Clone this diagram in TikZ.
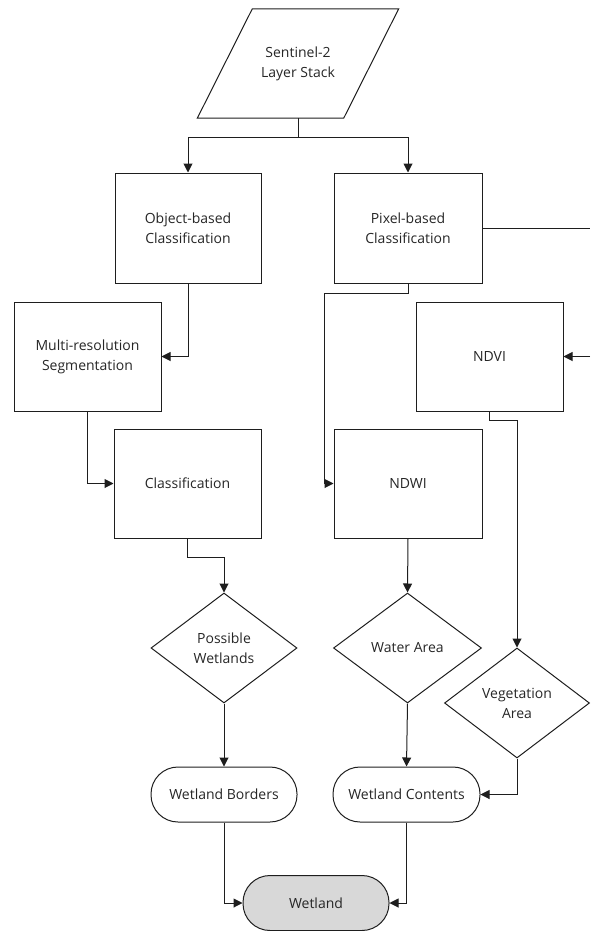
\documentclass[tikz,border=0pt]{standalone}
\usepackage{fontspec}
\setmainfont{Open Sans}
\usepackage{xcolor}
\usepackage{tikz}
\usetikzlibrary{shapes.geometric,arrows.meta}
\definecolor{flowline}{RGB}{30,30,30}
\definecolor{wetlandfill}{RGB}{216,216,216}

\tikzset{
  procbox/.style={draw=flowline, line width=1pt, minimum width=147pt, minimum height=109pt, align=center},
  decision/.style={diamond, draw=flowline, line width=1pt, minimum width=147pt, minimum height=110pt, aspect=1.34, inner sep=0pt, align=center},
  termbox/.style={draw=flowline, line width=1pt, rounded corners=27pt, minimum width=146pt, minimum height=55pt, align=center},
  arr/.style={draw=flowline, line width=1pt, -{Triangle[width=9pt,length=9pt]}},
  link/.style={draw=flowline, line width=1pt}
}

\begin{document}
\begin{tikzpicture}[x=1pt, y=-1pt, font=\fontsize{14}{20}\selectfont, text=black!85]
        \useasboundingbox (0,0) rectangle (590,931);

        % input
        \node[minimum width=146pt, minimum height=109pt, align=center] (stack) at (298,63.5) {Sentinel-2\\Layer Stack};
        \draw[link] ([xshift=27.5pt]stack.north west) -- ([xshift=27.5pt]stack.north east)
            -- ([xshift=-27.5pt]stack.south east) -- ([xshift=-27.5pt]stack.south west) -- cycle;

        % two branches
        \node[procbox, minimum width=146pt, minimum height=110pt] (obj) at (188,228) {Object-based\\Classification};
        \node[procbox, minimum width=148pt, minimum height=110pt] (pix) at (408,228) {Pixel-based\\Classification};
        \node[procbox] (mrs) at (87.5,356.5) {Multi-resolution\\Segmentation};
        \node[procbox] (ndvi) at (489.5,356.5) {NDVI};
        \node[procbox] (cls) at (187.5,483.5) {Classification};
        \node[procbox, minimum width=148pt] (ndwi) at (408,483.5) {NDWI};

        % decisions
        \node[decision, minimum width=146pt] (pw) at (224,648) {Possible\\Wetlands};
        \node[decision, minimum width=148pt] (wa) at (407.5,648) {Water Area};
        \node[decision, minimum width=145pt] (veg) at (517,703) {Vegetation\\Area};

        % results
        \node[termbox] (wb) at (224,794.5) {Wetland Borders};
        \node[termbox, minimum width=147pt] (wc) at (406.5,794.5) {Wetland Contents};
        \node[termbox, fill=wetlandfill] (wet) at (316,903) {Wetland};

        \coordinate (rimtop) at (590,228);
        \coordinate (rimlow) at (590,356.5);

        \draw[link] (stack.south) -- ++(0,19) coordinate (split);
        \draw[arr] (split) -| (obj.north);
        \draw[arr] (split) -| (pix.north);
        \draw[arr] (obj.south) |- (mrs.east);
        \draw[arr] (mrs.south) |- (cls.west);
        \draw[arr] (cls.south) -- ++(0,19) -| (pw.north);
        \draw[arr] (pix.south) -- ++(0,10) -- ++(-84,0) |- (ndwi.west);
        \draw[link] (pix.east) -- (rimtop);
        \draw[arr] (rimlow) -- (ndvi.east);
        \draw[arr] (ndvi.south) -- ++(0,9) -| (veg.north);
        \draw[arr] (ndwi.south) -- (wa.north);
        \draw[arr] (pw.south) -- (wb.north);
        \draw[arr] (wa.south) -- (wc.north);
        \draw[arr] (veg.south) |- (wc.east);
        \draw[arr] (wb.south) |- (wet.west);
        \draw[arr] (wc.south) |- (wet.east);
    \end{tikzpicture}
\end{document}
